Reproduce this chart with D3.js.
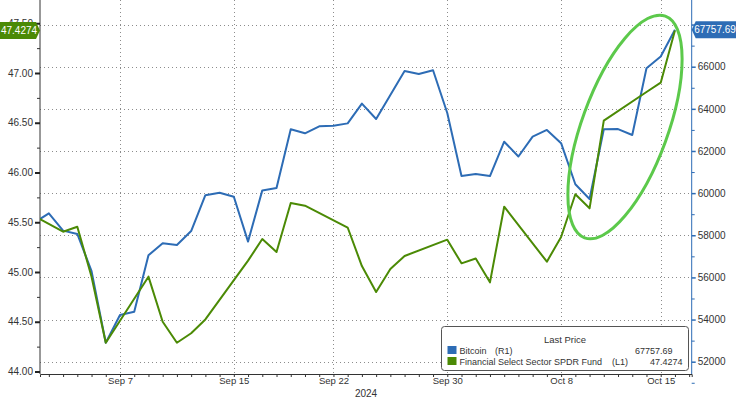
<!DOCTYPE html>
<html><head><meta charset="utf-8">
<script src="https://cdn.jsdelivr.net/npm/d3@7"></script>
<style>
html,body{margin:0;padding:0;background:#fff;}
svg{display:block;font-family:"Liberation Sans",Arial,sans-serif;}
</style></head>
<body><svg id="c" width="736" height="398"></svg>
<script>
// ---- data ----
const btcDates = ["2024-09-01","2024-09-02","2024-09-03","2024-09-04","2024-09-05","2024-09-06","2024-09-07","2024-09-08","2024-09-09","2024-09-10","2024-09-11","2024-09-12","2024-09-13","2024-09-14","2024-09-15","2024-09-16","2024-09-17","2024-09-18","2024-09-19","2024-09-20","2024-09-21","2024-09-22","2024-09-23","2024-09-24","2024-09-25","2024-09-26","2024-09-27","2024-09-28","2024-09-29","2024-09-30","2024-10-01","2024-10-02","2024-10-03","2024-10-04","2024-10-05","2024-10-06","2024-10-07","2024-10-08","2024-10-09","2024-10-10","2024-10-11","2024-10-12","2024-10-13","2024-10-14","2024-10-15","2024-10-16"];
const btcValues = [58610,59040,58220,58060,56300,52900,54220,54370,57050,57620,57540,58200,59900,60020,59830,57700,60130,60240,63030,62840,63170,63200,63310,64250,63520,64660,65800,65650,65830,63800,60810,60910,60810,62440,61740,62680,63000,62370,60420,59720,63030,63040,62760,65930,66480,67757.69];
const xlfDates = ["2024-08-30","2024-09-03","2024-09-04","2024-09-05","2024-09-06","2024-09-09","2024-09-10","2024-09-11","2024-09-12","2024-09-13","2024-09-16","2024-09-17","2024-09-18","2024-09-19","2024-09-20","2024-09-23","2024-09-24","2024-09-25","2024-09-26","2024-09-27","2024-09-30","2024-10-01","2024-10-02","2024-10-03","2024-10-04","2024-10-07","2024-10-08","2024-10-09","2024-10-10","2024-10-11","2024-10-14","2024-10-15","2024-10-16"];
const xlfValues = [45.716,45.405,45.455,44.953,44.289,44.953,44.50,44.289,44.384,44.523,45.114,45.332,45.201,45.693,45.666,45.447,45.060,44.799,45.030,45.161,45.325,45.087,45.136,44.896,45.656,45.104,45.352,45.782,45.640,46.521,46.809,46.903,47.4274];
const xTickDates = ["2024-09-07","2024-09-15","2024-09-22","2024-09-30","2024-10-08","2024-10-15"];
const xTickLabels = ["Sep 7","Sep 15","Sep 22","Sep 30","Oct 8","Oct 15"];
const leftTicks = [44.00,44.50,45.00,45.50,46.00,46.50,47.00,47.50];
const rightTicks = [52000,54000,56000,58000,60000,62000,64000,66000,68000];
const yearLabel = "2024";
const seriesNames = ["Bitcoin","Financial Select Sector SPDR Fund"];
const seriesAxes = ["(R1)","(L1)"];
const lastValues = ["67757.69","47.4274"];
const legendTitle = "Last Price";

// ---- layout ----
const L = 40, R = 691.7, T = 0, B = 374;
const BLUE = "#2d6cb5", GREEN = "#4b8a05", RING = "#5cc94b", TXT = "#333";
const svg = d3.select("#c");
const parse = d3.utcParse("%Y-%m-%d");

const x = d3.scaleUtc()
  .domain([new Date(Date.UTC(2024,8,1,9,4)), new Date(Date.UTC(2024,9,17,4,16))])
  .range([L, R]);
const yL = d3.scaleLinear().domain([44, 47.5]).range([371.5, 23.25]);
const yR = d3.scaleLinear().domain([52000, 66000]).range([361.7, 66.7]);

svg.append("defs").append("clipPath").attr("id","clip")
  .append("rect").attr("x",L).attr("y",T).attr("width",R-L).attr("height",B-T);

// grid
const grid = svg.append("g").attr("stroke","#8c8c8c").attr("stroke-width",1).attr("stroke-dasharray","1,3");
rightTicks.forEach(v=>{
  const yy = Math.round(yR(v))+0.5;
  if (yy > T && yy < B) grid.append("line").attr("x1",L).attr("x2",R).attr("y1",yy).attr("y2",yy);
});
xTickDates.forEach(d=>{
  const xx = Math.round(x(parse(d)))+0.5;
  grid.append("line").attr("x1",xx).attr("x2",xx).attr("y1",T).attr("y2",B);
});

// axes
const gx = svg.append("g").attr("transform",`translate(0,${B})`)
  .call(d3.axisBottom(x).tickValues(d3.utcDay.range(x.domain()[0], x.domain()[1])).tickSize(3).tickFormat(""));
gx.select(".domain").attr("stroke","#333");
gx.selectAll(".tick line").attr("stroke","#333");
const gx2 = svg.append("g").attr("transform",`translate(0,${B})`)
  .call(d3.axisBottom(x).tickValues(xTickDates.map(parse)).tickSize(0).tickPadding(3)
    .tickFormat((d,i)=>xTickLabels[i]));
gx2.select(".domain").remove();
gx2.selectAll("text").attr("fill",TXT).style("font-size","9.5px");
svg.append("text").attr("x",366).attr("y",396.5).attr("text-anchor","middle")
  .attr("fill",TXT).style("font-size","10px").text(yearLabel);

// left axis
const gl = svg.append("g").attr("transform",`translate(${L},0)`)
  .call(d3.axisLeft(yL).tickValues(leftTicks).tickSize(5).tickPadding(2).tickFormat(d3.format(".2f")));
gl.select(".domain").attr("stroke","#333").attr("d",`M0,${T}V${B}`);
gl.selectAll(".tick line").attr("stroke","#222").attr("stroke-width",2);
gl.selectAll("text").attr("fill",TXT).style("font-size","10px");
const glm = svg.append("g").attr("transform",`translate(${L},0)`)
  .call(d3.axisLeft(yL).tickValues(leftTicks.slice(0,-1).map(v=>v+0.25)).tickSize(3).tickFormat(""));
glm.select(".domain").remove();
glm.selectAll(".tick line").attr("stroke","#333");

// right axis (top label sits under the value tag, as in the reference)
const gr = svg.append("g").attr("transform",`translate(${R},0)`)
  .call(d3.axisRight(yR).tickValues(rightTicks).tickSize(4).tickPadding(2)
    .tickFormat(d=> d < 67000 ? d3.format("d")(d) : ""));
gr.select(".domain").attr("stroke",BLUE).attr("d",`M0,${T}V${B}`);
gr.selectAll(".tick line").attr("stroke",BLUE).attr("stroke-width",1.5);
gr.selectAll("text").attr("fill",TXT).style("font-size","10px");
const grm = svg.append("g").attr("transform",`translate(${R},0)`)
  .call(d3.axisRight(yR).tickValues(rightTicks.map(v=>v-1000)).tickSize(3).tickFormat(""));
grm.select(".domain").remove();
grm.selectAll(".tick line").attr("stroke",BLUE);

// lines
const plot = svg.append("g").attr("clip-path","url(#clip)");
const btc = btcDates.map((d,i)=>({d:parse(d), v:btcValues[i]}));
const xlf = xlfDates.map((d,i)=>({d:parse(d), v:xlfValues[i]}));
plot.append("path").datum(btc).attr("fill","none").attr("stroke",BLUE).attr("stroke-width",2)
  .attr("stroke-linejoin","round").attr("d",d3.line().x(p=>x(p.d)).y(p=>yR(p.v)));
plot.append("path").datum(xlf).attr("fill","none").attr("stroke",GREEN).attr("stroke-width",2)
  .attr("stroke-linejoin","round").attr("d",d3.line().x(p=>x(p.d)).y(p=>yL(p.v)));

// highlight ellipse
svg.append("ellipse").attr("cx",625).attr("cy",127).attr("rx",43).attr("ry",118)
  .attr("transform","rotate(20,625,127)").attr("fill","none").attr("stroke",RING).attr("stroke-width",3);

// value tags
const gy = yL(+lastValues[1]);
svg.append("path").attr("d",`M0,${gy-8.5}H36L${L},${gy}L36,${gy+8.5}H0Z`).attr("fill",GREEN);
svg.append("text").attr("x",19).attr("y",gy+3.5).attr("text-anchor","middle").attr("fill","#fff")
  .style("font-size","10px").text(lastValues[1]);
const by = yR(+lastValues[0]);
svg.append("path").attr("d",`M${R},${by}L${R+4},${by-8.5}H736V${by+8.5}H${R+4}Z`).attr("fill",BLUE);
svg.append("text").attr("x",715).attr("y",by+3.5).attr("text-anchor","middle").attr("fill","#fff")
  .style("font-size","10px").text(lastValues[0]);

// legend
const lg = svg.append("g");
lg.append("rect").attr("x",441.5).attr("y",326.5).attr("width",247).attr("height",44).attr("rx",3)
  .attr("fill","#fff").attr("stroke","#555");
lg.append("text").attr("x",565).attr("y",343).attr("text-anchor","middle").attr("fill",TXT)
  .style("font-size","9.5px").text(legendTitle);
const axisX = [495, 612], valEnds = [672.5, 682.5];
[BLUE,GREEN].forEach((c,i)=>{
  const yy = 346 + i*11;
  lg.append("rect").attr("x",447.5).attr("y",yy).attr("width",9).attr("height",8).attr("fill",c);
  lg.append("text").attr("x",459.5).attr("y",yy+7.5).attr("fill",TXT).style("font-size","9px")
    .text(seriesNames[i]);
  lg.append("text").attr("x",axisX[i]).attr("y",yy+7.5).attr("fill",TXT).style("font-size","9px")
    .text(seriesAxes[i]);
  lg.append("text").attr("x",valEnds[i]).attr("y",yy+7.5).attr("text-anchor","end").attr("fill",TXT)
    .style("font-size","9px").text(lastValues[i]);
});
</script></body></html>
